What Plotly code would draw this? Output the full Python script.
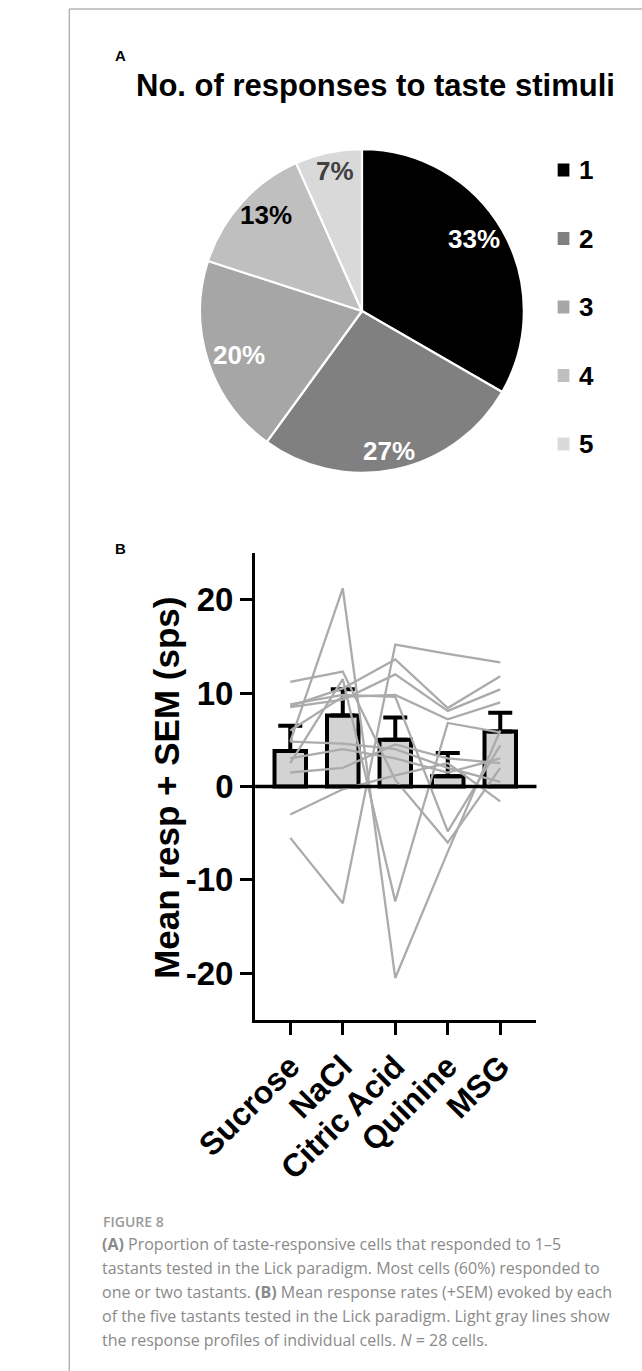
import plotly.graph_objects as go
import math

W, H = 642, 1371

# ---------------- data ----------------
# Panel A: number of tastants each cell responded to
resp_labels = ["1", "2", "3", "4", "5"]
resp_counts = [5, 4, 3, 2, 1]
slice_colors = ["#000000", "#808080", "#a6a6a6", "#bfbfbf", "#d9d9d9"]
pct_text_colors = ["#ffffff", "#ffffff", "#ffffff", "#000000", "#404040"]

# Panel B: mean response (+SEM) per tastant
tastants = ["Sucrose", "NaCl", "Citric Acid", "Quinine", "MSG"]
mean_resp = [3.8, 7.6, 5.0, 1.1, 5.9]
sem_resp = [2.7, 2.8, 2.4, 2.5, 2.0]

# individual cell response profiles (Sucrose, NaCl, Citric Acid, Quinine, MSG)
cell_01 = [-5.5, -12.5, 15.2, 14.2, 13.3]
cell_02 = [4.8, 21.2, -20.5, -7.0, 6.0]
cell_03 = [11.2, 12.3, 0.7, -6.0, 2.0]
cell_04 = [8.8, 9.8, 9.6, -4.8, 4.4]
cell_05 = [8.6, 10.5, 13.6, 8.4, 11.8]
cell_06 = [8.5, 9.3, 12.0, 8.1, 10.4]
cell_07 = [-3.0, -0.3, 1.2, 2.5, -1.6]
cell_08 = [4.8, 4.6, 4.0, 2.0, 0.5]
cell_09 = [2.5, 11.5, -12.3, 6.8, 5.8]
cell_10 = [6.0, 9.6, 9.8, 7.2, 9.0]
cell_11 = [3.0, 4.0, 3.0, 1.5, 3.0]
cell_12 = [1.5, 2.0, 4.5, 3.0, 2.5]
cells = [cell_01, cell_02, cell_03, cell_04, cell_05, cell_06,
         cell_07, cell_08, cell_09, cell_10, cell_11, cell_12]

y_ticks = [-20, -10, 0, 10, 20]

caption_lines = [
    "<b>(A)</b> Proportion of taste-responsive cells that responded to 1\u20135",
    "tastants tested in the Lick paradigm. Most cells (60%) responded to",
    "one or two tastants. <b>(B)</b> Mean response rates (+SEM) evoked by each",
    "of the five tastants tested in the Lick paradigm. Light gray lines show",
    "the response profiles of individual cells. <i>N</i> = 28 cells.",
]

# ---------------- helpers ----------------
def px(x):
    return x / W

def py(y):
    return 1 - y / H

FONT = "Liberation Sans"
CAPFONT = "Open Sans"

fig = go.Figure()

# ---------------- panel A: pie ----------------
pie_cx, pie_cy, pie_r = 331.5, 311.0, 179.5
fig.add_trace(go.Pie(
    labels=resp_labels, values=resp_counts, sort=False,
    direction="clockwise", rotation=0,
    marker=dict(colors=slice_colors, line=dict(color="white", width=2.2)),
    textinfo="none", hoverinfo="label+percent", showlegend=False,
    domain=dict(x=[px(pie_cx - pie_r), px(pie_cx + pie_r)],
                y=[py(pie_cy + pie_r), py(pie_cy - pie_r)]),
))

annotations = []
shapes = []

total = sum(resp_counts)
cum = 0
for lab, c, tc in zip(resp_labels, resp_counts, pct_text_colors):
    mid = (cum + c / 2) / total * 2 * math.pi
    cum += c
    tx = pie_cx + 0.8 * pie_r * math.sin(mid)
    ty = pie_cy - 0.8 * pie_r * math.cos(mid)
    annotations.append(dict(
        x=px(tx), y=py(ty), xref="paper", yref="paper",
        text=f"<b>{round(100 * c / total)}%</b>", showarrow=False,
        xanchor="center", yanchor="middle",
        font=dict(family=FONT, size=26, color=tc)))

# manual legend
leg_x, leg_y0, leg_dy, sq = 555, 170, 68.5, 13
for i, (lab, col) in enumerate(zip(resp_labels, slice_colors)):
    yy = leg_y0 + i * leg_dy
    shapes.append(dict(type="rect", xref="paper", yref="paper",
                       x0=px(leg_x - sq / 2), x1=px(leg_x + sq / 2),
                       y0=py(yy + sq / 2), y1=py(yy - sq / 2),
                       fillcolor=col, line=dict(width=0)))
    annotations.append(dict(
        x=px(leg_x + 15), y=py(yy), xref="paper", yref="paper",
        text=f"<b>{lab}</b>", showarrow=False, xanchor="left",
        yanchor="middle", font=dict(family=FONT, size=26, color="black")))

# title + panel letters
annotations.append(dict(
    x=px(347), y=py(85), xref="paper", yref="paper",
    text="<b>No. of responses to taste stimuli</b>", showarrow=False,
    xanchor="center", yanchor="middle",
    font=dict(family=FONT, size=31, color="black")))
annotations.append(dict(
    x=px(64), y=py(56), xref="paper", yref="paper", text="<b>A</b>",
    showarrow=False, xanchor="center", yanchor="middle",
    font=dict(family=FONT, size=15, color="black")))
annotations.append(dict(
    x=px(64), y=py(548), xref="paper", yref="paper", text="<b>B</b>",
    showarrow=False, xanchor="center", yanchor="middle",
    font=dict(family=FONT, size=15, color="black")))

# ---------------- panel B: lines + bars ----------------
for cell in cells:
    fig.add_trace(go.Scatter(
        x=tastants, y=cell, mode="lines",
        line=dict(color="#ababab", width=2.3),
        showlegend=False, hoverinfo="skip", xaxis="x", yaxis="y"))

fig.add_trace(go.Bar(
    x=tastants, y=mean_resp, width=0.6,
    marker=dict(color="#d3d3d3", line=dict(color="black", width=4)),
    error_y=dict(type="data", array=sem_resp,
                 arrayminus=[0] * len(sem_resp), symmetric=False,
                 color="black", thickness=4, width=12),
    showlegend=False, xaxis="x", yaxis="y"))

# zero line drawn above the traces
shapes.append(dict(type="line", xref="x domain", yref="y",
                   x0=0, x1=1, y0=0, y1=0, layer="above",
                   line=dict(color="black", width=3.5)))

# y axis title
annotations.append(dict(
    x=px(114), y=py(788), xref="paper", yref="paper",
    text="<b>Mean resp + SEM (sps)</b>", showarrow=False, textangle=-90,
    xanchor="center", yanchor="middle",
    font=dict(family=FONT, size=35, color="black")))

# ---------------- caption ----------------
annotations.append(dict(
    x=px(42), y=py(1221), xref="paper", yref="paper", text="FIGURE 8",
    showarrow=False, xanchor="left", yanchor="middle",
    font=dict(family=CAPFONT, size=14, color="#9a9a9a", weight=600)))
for i, line in enumerate(caption_lines):
    annotations.append(dict(
        x=px(41), y=py(1244 + 24 * i), xref="paper", yref="paper",
        text=line, showarrow=False, xanchor="left", yanchor="middle",
        font=dict(family=CAPFONT, size=16, color="#8a8a8a")))

# frame lines
shapes.append(dict(type="line", xref="paper", yref="paper",
                   x0=px(7), x1=1, y0=py(9), y1=py(9),
                   line=dict(color="#b4b4b4", width=1.5)))
shapes.append(dict(type="line", xref="paper", yref="paper",
                   x0=px(7), x1=px(7), y0=py(9), y1=0,
                   line=dict(color="#b4b4b4", width=1.5)))

fig.update_layout(
    width=W, height=H,
    margin=dict(l=0, r=0, t=0, b=0),
    paper_bgcolor="white", plot_bgcolor="white",
    showlegend=False,
    xaxis=dict(domain=[px(213), px(525)], range=[-0.67, 4.69],
               type="category", showline=True, linecolor="black",
               linewidth=3, ticks="outside", ticklen=12, tickwidth=3,
               tickcolor="black", tickangle=-45, showgrid=False,
               zeroline=False, fixedrange=True,
               tickvals=tastants,
               ticktext=[f"<b>{t}</b>" for t in tastants],
               tickfont=dict(family=FONT, size=32, color="black")),
    yaxis=dict(domain=[py(1020), py(553)], range=[-25, 25],
               tickvals=y_ticks,
               ticktext=[f"<b>{v}</b>" for v in y_ticks],
               showline=True, linecolor="black",
               linewidth=3, ticks="outside", ticklen=12, tickwidth=3,
               tickcolor="black", showgrid=False, zeroline=False,
               fixedrange=True,
               tickfont=dict(family=FONT, size=33, color="black")),
    annotations=annotations,
    shapes=shapes,
)

fig.write_html("out.html",
               config={"displayModeBar": False},
               post_script="document.body.style.margin='0';"
                           "document.documentElement.style.overflow='hidden';")
